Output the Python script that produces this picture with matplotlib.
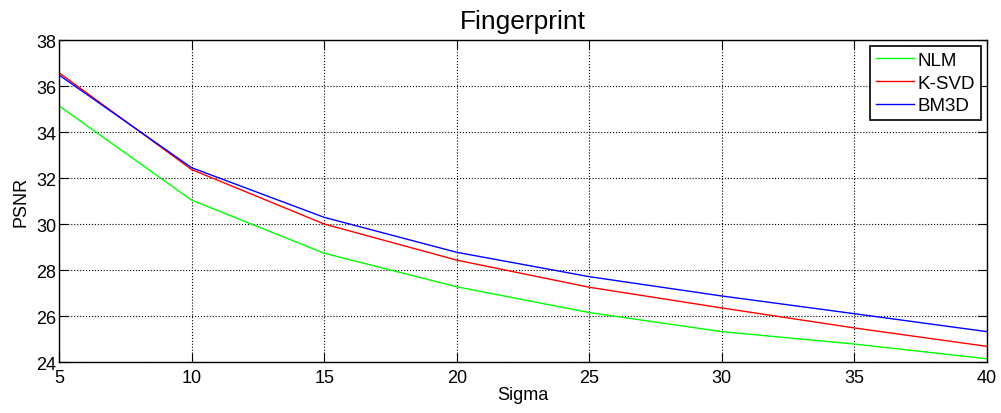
import matplotlib
matplotlib.use("Agg")
import matplotlib.pyplot as plt

sigma = [5, 10, 15, 20, 25, 30, 35, 40]
nlm = [35.14, 31.04, 28.73, 27.27, 26.15, 25.32, 24.78, 24.14]
ksvd = [36.58, 32.37, 30.00, 28.43, 27.25, 26.35, 25.48, 24.68]
bm3d = [36.48, 32.45, 30.29, 28.77, 27.71, 26.87, 26.10, 25.32]
xticks = [5, 10, 15, 20, 25, 30, 35, 40]
yticks = [24, 26, 28, 30, 32, 34, 36, 38]

plt.rcParams['font.family'] = ['Liberation Sans', 'DejaVu Sans']

fig = plt.figure(figsize=(10.01, 4.14), dpi=100)
ax = fig.add_axes([59/1001, 1 - 363/414, (987-59)/1001, (363-41)/414])

ax.plot(sigma, nlm, color='#00ff00', lw=1, label='NLM')
ax.plot(sigma, ksvd, color='#ff0000', lw=1, label='K-SVD')
ax.plot(sigma, bm3d, color='#0000ff', lw=1, label='BM3D')

ax.set_xlim(5, 40)
ax.set_ylim(24, 38)
ax.set_xticks(xticks)
ax.set_yticks(yticks)
ax.grid(True, linestyle=':', color='black', lw=0.8)
ax.tick_params(direction='in', top=True, right=True, labelsize=13, length=6.5)
ax.tick_params(axis='x', pad=5)
ax.tick_params(axis='y', pad=2)
for s in ax.spines.values():
    s.set_linewidth(1)

ax.set_title('Fingerprint', fontsize=19, pad=9)
ax.set_xlabel('Sigma', fontsize=13, labelpad=0)
ax.set_ylabel('PSNR', fontsize=13, labelpad=5)

leg = ax.legend(loc='upper right', fontsize=13.5, fancybox=False, framealpha=1,
                edgecolor='black', borderaxespad=0.33, borderpad=0.3,
                handlelength=2.05, handletextpad=0.2, labelspacing=0.3)
leg.get_frame().set_linewidth(1.2)

fig.savefig('out.png', dpi=100)
